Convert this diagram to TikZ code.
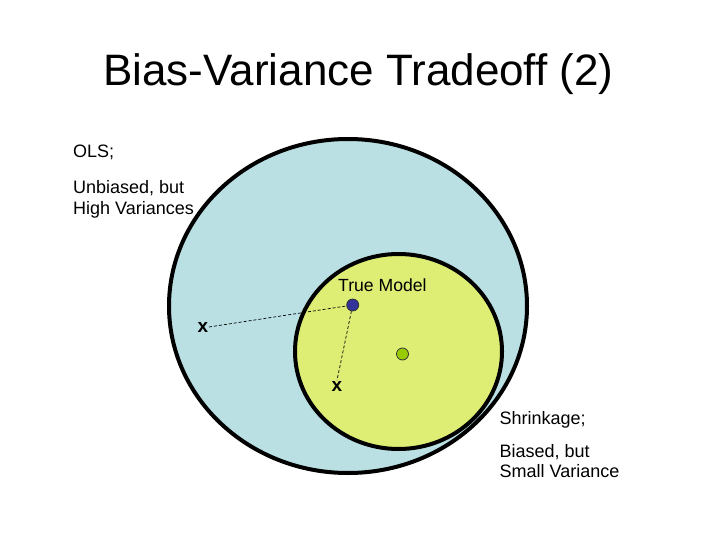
\documentclass[tikz,border=0pt]{standalone}
\usepackage{fontspec}
\setmainfont{Liberation Sans}
\begin{document}
\begin{tikzpicture}[x=1pt,y=-1pt,
  lbl/.style={font=\fontsize{18}{20.5}\selectfont, inner sep=0pt, anchor=base west},
  xmark/.style={font=\fontsize{19}{20}\selectfont\bfseries, inner sep=0.5pt},
  region/.style={draw=black, line width=4pt},
  dotmark/.style={circle, draw=black!80, line width=0.8pt, minimum size=12pt, inner sep=0pt},
  link/.style={line width=0.7pt, dash pattern=on 3pt off 2pt}]
\definecolor{olsblue}{RGB}{186,224,228}
\definecolor{shrinkyellow}{RGB}{222,238,116}
\definecolor{truedot}{RGB}{51,51,153}
\definecolor{estdot}{RGB}{153,204,0}
\useasboundingbox (0,0) rectangle (720,540);
\fill[white] (0,0) rectangle (720,540);
% title
\node[font=\fontsize{44}{48}\selectfont, inner sep=0pt, anchor=base] (title) at (358.5,86) {Bias-Variance Tradeoff (2)};
% regions
\draw[region, fill=olsblue] (348,306) ellipse [x radius=179, y radius=167];
\draw[region, fill=shrinkyellow] (398.5,351.5) ellipse [x radius=103.5, y radius=97.5];
% points
\node[dotmark, fill=truedot] (truem) at (352.7,305) {};
\node[dotmark, fill=estdot] (est) at (402.5,354) {};
\node[font=\fontsize{17.6}{20}\selectfont, inner sep=0pt, anchor=base west] (tlabel) at (338,291) {True Model};
\node[xmark] (xa) at (203,327) {x};
\node[xmark] (xb) at (337,386) {x};
\draw[link] (xa.east) -- (truem);
\draw[link] (truem) -- (xb.north);
% labels
\node[lbl] (ols) at (73,158) {OLS;};
\node[lbl] (olsd1) at (73,194) {Unbiased, but};
\node[lbl] (olsd2) at (73,214.5) {High Variances};
\node[lbl] (shr) at (499.5,424) {Shrinkage;};
\node[lbl] (shrd1) at (499.5,457) {Biased, but};
\node[lbl] (shrd2) at (499.5,477.5) {Small Variance};
\end{tikzpicture}
\end{document}
